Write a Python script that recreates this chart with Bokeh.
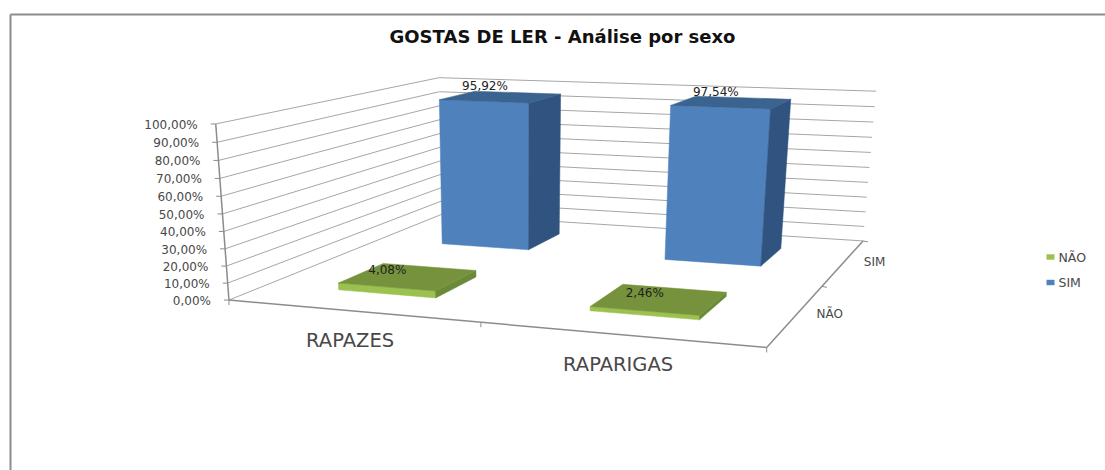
import numpy as np
from bokeh.plotting import figure
from bokeh.models import Range1d
from bokeh.core.properties import value
from bokeh.embed import file_html
from bokeh.resources import INLINE

# ---- data ----
title = "GOSTAS DE LER - Análise por sexo"
categories = ["RAPAZES", "RAPARIGAS"]
series_names = ["NÃO", "SIM"]
nao_values = [4.08, 2.46]
sim_values = [95.92, 97.54]
value_ticks = [0, 10, 20, 30, 40, 50, 60, 70, 80, 90, 100]

# ---- page ----
W, H = 1105, 470
p = figure(width=W, height=H, output_backend="svg", toolbar_location=None,
           x_range=Range1d(0, W), y_range=Range1d(H, 0),
           min_border=0, outline_line_color=None)
p.axis.visible = False
p.grid.visible = False

# ---- 3D scale: (category, depth, value) -> page, calibrated on the chart box ----
calib = [
    (0, 0, 0, 230, 299), (1, 0, 0, 766, 347), (1, 1, 0, 863, 240), (0, 1, 0, 440, 214),
    (0, 0, 1, 214.3, 123.3), (0, 1, 1, 440, 76.7), (1, 1, 1, 875, 91),
    (0.5, 0, 0, 480, 323), (1, 0.5, 0, 821.7, 285),
    (0, 0, 0.5, 221.7, 213.3), (0, 1, 0.5, 440, 147), (1, 1, 0.5, 869, 167.3),
]
rows = []
for X, Y, Z, u, v in calib:
    u, v = u / 1000, v / 1000
    rows.append([X, Y, Z, 1, 0, 0, 0, 0, -u * X, -u * Y, -u * Z, -u])
    rows.append([0, 0, 0, 0, X, Y, Z, 1, -v * X, -v * Y, -v * Z, -v])
P = np.linalg.svd(np.array(rows, float))[2][-1].reshape(3, 4)

def proj(X, Y, Z):
    h = P @ np.array([X, Y, Z, 1.0])
    return h[0] / h[2] * 1000, h[1] / h[2] * 1000

def line(a, b, color="#a6a6a6", width=1.0):
    (x0, y0), (x1, y1) = proj(*a), proj(*b)
    p.line([x0, x1], [y0, y1], line_color=color, line_width=width)

def label(x, y, txt, size, color="#484848", align="center", style="normal", font="DejaVu Sans"):
    p.text([x], [y], text=[txt], text_font=value(font), text_font_size=f"{size}px",
           text_color=color, text_align=align, text_baseline="middle", text_font_style=style)

# frame
p.line([10, 10], [14, H], line_color="#8c8c8c", line_width=2)
p.line([10, W], [14, 14], line_color="#8c8c8c", line_width=2)

label(562, 36, title, 18, color="#111111", style="bold")

# walls
for t in value_ticks:
    z = t / 100
    line((0, 0, z), (0, 1, z))
    line((0, 1, z), (1, 1, z))
    x0, y0 = proj(0, 0, z)
    p.line([x0 - 5, x0], [y0, y0], line_color="#8c8c8c", line_width=1)
    label(x0 - 18, y0 + 1, f"{t},00%", 12, align="right")

# axes
line((0, 0, 0), (0, 0, 1), "#8c8c8c", 1.5)
line((0, 0, 0), (1, 0, 0), "#8c8c8c", 1.5)
line((1, 0, 0), (1, 1, 0), "#8c8c8c", 1.5)
for c in (0, 0.5, 1):
    x0, y0 = proj(c, 0, 0)
    p.line([x0, x0], [y0, y0 + 5], line_color="#8c8c8c", line_width=1)
for d in (0.5, 1):
    x0, y0 = proj(1, d, 0)
    p.line([x0, x0 + 5], [y0, y0 + 1], line_color="#8c8c8c", line_width=1)

for i, c in enumerate(categories):
    x0, y0 = proj((i + 0.5) / 2, 0, 0)
    label(x0 - 1, y0 + 30, c, 19.5)
for j, s in enumerate(series_names):
    x0, y0 = proj(1, (j + 0.5) / 2, 0)
    label(x0 + 20, y0, s, 12, align="left")

# bars
BAR_A, BAR_B, BAR_C, BAR_D = 0.15, 0.35, 0.15, 0.35
palette = {
    0: dict(front="#9BC24F", top="#76923C", side="#6A8A38"),
    1: dict(front="#4F81BD", top="#3B6390", side="#30547F"),
}
nudges = {(1, 0): (10, -5), (1, 1): (20, -4), (0, 0): (4, 7), (0, 1): (22, 9)}
for j, vals in reversed(list(enumerate([nao_values, sim_values]))):
    col = palette[j]
    for i, v in enumerate(vals):
        x0, x1 = i / 2 + BAR_A, i / 2 + BAR_B
        y0, y1 = j / 2 + BAR_C, j / 2 + BAR_D
        z = v / 100
        for face, key in (
            ([(x0, y0, 0), (x1, y0, 0), (x1, y0, z), (x0, y0, z)], "front"),
            ([(x1, y0, 0), (x1, y1, 0), (x1, y1, z), (x1, y0, z)], "side"),
            ([(x0, y0, z), (x1, y0, z), (x1, y1, z), (x0, y1, z)], "top"),
        ):
            pts = [proj(*q) for q in face]
            p.patch([q[0] for q in pts], [q[1] for q in pts], fill_color=col[key],
                    line_color=col[key], line_width=0.5)
for j, vals in enumerate([nao_values, sim_values]):
    for i, v in enumerate(vals):
        xa, ya = proj(i / 2 + BAR_A, j / 2 + BAR_D, v / 100)
        dx, dy = nudges[(j, i)]
        label(xa + dx, ya + dy, f"{v:.2f}".replace(".", ",") + "%", 12, color="#222222")

# legend
for j, s in enumerate(series_names):
    y = 256.5 + 25.5 * j
    p.quad(left=[1046], right=[1054], top=[y - 2.7], bottom=[y + 2.7],
           fill_color=palette[j]["front"], line_color=None)
    label(1058, y, s, 12.5, align="left")

open("out.html", "w").write(file_html(p, INLINE))
